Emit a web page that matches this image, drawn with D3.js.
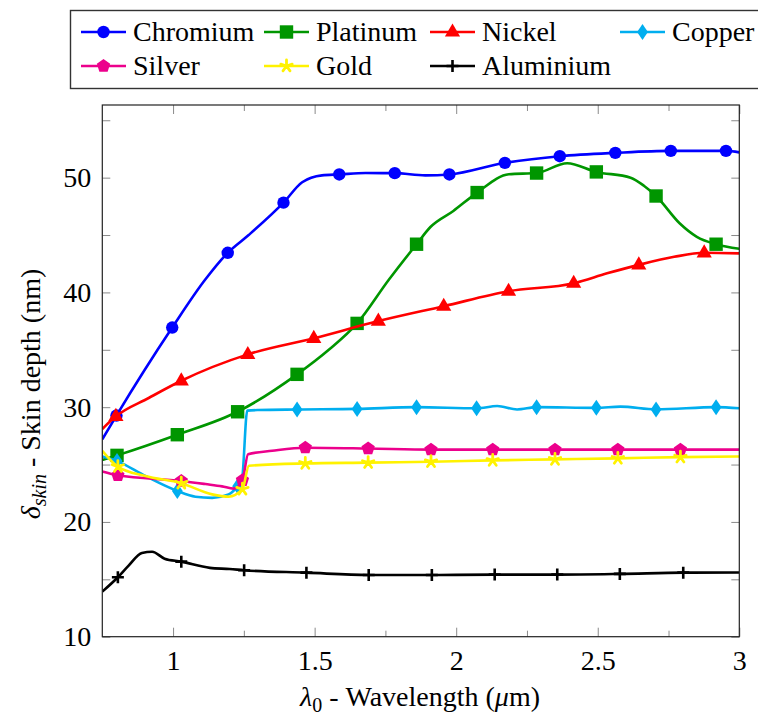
<!DOCTYPE html>
<html><head><meta charset="utf-8">
<script src="https://cdn.jsdelivr.net/npm/d3@7"></script>
</head><body style="margin:0">
<svg id="s" width="758" height="718"></svg>
<script>
// marker points (every n-th sample as drawn) and extra samples that shape the curves
const chromiumMarks = [[0.800, 29.27], [0.997, 36.94], [1.193, 43.45], [1.390, 47.82], [1.587, 50.28], [1.783, 50.39],
  [1.976, 50.28], [2.172, 51.29], [2.366, 51.87], [2.562, 52.16], [2.758, 52.33], [2.953, 52.33]]
const chromiumExtra = [[0.75, 27.2], [1.113, 41.1], [1.267, 45.0], [1.456, 49.6], [1.526, 50.2], [1.68, 50.4], [1.891, 50.2], [3.0, 52.2]]

const platinumMarks = [[0.802, 25.8], [1.015, 27.6], [1.228, 29.6], [1.438, 32.86], [1.650, 37.3], [1.860, 44.2],
  [2.074, 48.7], [2.284, 50.4], [2.495, 50.5], [2.706, 48.4], [2.918, 44.2]]
const platinumExtra = [[0.75, 25.4], [1.55, 35.0], [1.762, 41.1], [1.909, 45.7], [1.99, 47.1], [2.186, 50.3], [2.392, 51.26],
  [2.616, 50.0], [2.663, 49.3], [2.79, 46.0], [2.85, 44.84], [3.0, 43.8]]

const nickelMarks = [[0.798, 29.2], [1.029, 32.3], [1.264, 34.6], [1.497, 36.0], [1.725, 37.5], [1.956, 38.8],
  [2.185, 40.1], [2.415, 40.8], [2.645, 42.4], [2.876, 43.45]]
const nickelExtra = [[0.75, 28.1], [0.914, 30.8], [2.533, 41.66], [2.77, 43.1], [3.0, 43.4]]

const copperMarks = [[0.802, 25.3], [1.015, 22.7], [1.228, 23.1], [1.438, 29.8], [1.650, 29.85], [1.860, 30.0],
  [2.072, 29.9], [2.284, 30.0], [2.495, 29.94], [2.706, 29.8], [2.918, 30.0]]
const copperExtra = [[0.75, 25.7], [0.902, 24.0], [1.079, 22.2], [1.138, 22.1], [1.196, 22.4], [1.243, 23.6], [1.262, 29.7],
  [1.30, 29.75], [2.145, 30.1], [2.215, 29.8], [2.58, 30.05], [3.0, 29.9]]

const silverMarks = [[0.805, 24.06], [1.029, 23.57], [1.245, 23.63], [1.467, 26.47], [1.689, 26.4], [1.911, 26.3],
  [2.129, 26.3], [2.349, 26.3], [2.571, 26.3], [2.792, 26.3]]
const silverExtra = [[0.75, 24.4], [1.114, 23.3], [1.173, 23.1], [1.214, 22.9], [1.265, 25.9], [1.35, 26.2], [3.0, 26.3]]

const goldMarks = [[0.805, 24.82], [1.029, 23.37], [1.245, 22.85], [1.467, 25.1], [1.689, 25.17], [1.911, 25.25],
  [2.129, 25.36], [2.349, 25.45], [2.571, 25.54], [2.792, 25.65]]
const goldExtra = [[0.75, 26.2], [0.902, 24.0], [1.138, 22.4], [1.196, 22.2], [1.268, 24.9], [3.0, 25.7]]

const aluminiumMarks = [[0.805, 15.18], [1.029, 16.54], [1.251, 15.79], [1.471, 15.58], [1.691, 15.38], [1.914, 15.38],
  [2.136, 15.41], [2.357, 15.41], [2.578, 15.47], [2.802, 15.58]]
const aluminiumExtra = [[0.75, 13.93], [0.843, 16.2], [0.89, 17.3], [0.926, 17.4], [0.97, 16.8], [1.13, 16.0], [1.2, 15.9], [3.0, 15.6]]

const xTicks = [1, 1.5, 2, 2.5, 3]
const xMinorTicks = [1.25, 1.75, 2.25, 2.75]
const yTicks = [10, 20, 30, 40, 50]
const yMinorTicks = [15, 25, 35, 45, 55]

const series = [
  {name: 'Chromium', marks: chromiumMarks, extra: chromiumExtra, color: '#0000ff', mark: 'circle'},
  {name: 'Platinum', marks: platinumMarks, extra: platinumExtra, color: '#009600', mark: 'square'},
  {name: 'Nickel', marks: nickelMarks, extra: nickelExtra, color: '#ff0000', mark: 'triangle'},
  {name: 'Copper', marks: copperMarks, extra: copperExtra, color: '#00aeef', mark: 'diamond'},
  {name: 'Silver', marks: silverMarks, extra: silverExtra, color: '#ec008c', mark: 'pentagon'},
  {name: 'Gold', marks: goldMarks, extra: goldExtra, color: '#fff200', mark: 'star'},
  {name: 'Aluminium', marks: aluminiumMarks, extra: aluminiumExtra, color: '#000000', mark: 'plus'},
]

const FONT = 'Liberation Serif'
const margin = {top: 105, right: 18.7, bottom: 81.3, left: 102.3}
const W = 758, H = 718
const width = W - margin.left - margin.right
const height = H - margin.top - margin.bottom
const fontSize = 28

const svg = d3.select('#s')
const g = svg.append('g').attr('transform', `translate(${margin.left},${margin.top})`)

const x = d3.scaleLinear().domain([0.75, 3]).range([0, width])
const y = d3.scaleLinear().domain([10, 56.33]).range([height, 0])

svg.append('defs').append('clipPath').attr('id', 'plotclip')
  .append('rect').attr('width', width).attr('height', height)

// axes: ticks point inward on all four sides, labels drawn as plain texts
function styleAxis(sel) {
  sel.attr('font-family', null).attr('font-size', null)
  sel.select('.domain').remove()
  sel.selectAll('.tick line').attr('stroke', '#8a8a8a').attr('stroke-width', 1)
  sel.selectAll('text').attr('font-family', FONT).attr('font-size', fontSize).attr('fill', '#000')
}

g.append('g').attr('transform', `translate(0,${height})`)
  .call(d3.axisBottom(x).tickValues(xTicks).tickSize(-9).tickPadding(13).tickFormat(d3.format('')))
  .call(styleAxis)
g.append('g').attr('transform', `translate(0,${height})`)
  .call(d3.axisBottom(x).tickValues(xMinorTicks).tickSize(-6).tickFormat(''))
  .call(styleAxis)
g.append('g')
  .call(d3.axisTop(x).tickValues(xTicks).tickSize(-9).tickFormat(''))
  .call(styleAxis)
g.append('g')
  .call(d3.axisTop(x).tickValues(xMinorTicks).tickSize(-6).tickFormat(''))
  .call(styleAxis)

g.append('g')
  .call(d3.axisLeft(y).tickValues(yTicks).tickSize(-8).tickPadding(11).tickFormat(d3.format('')))
  .call(styleAxis)
g.append('g')
  .call(d3.axisLeft(y).tickValues(yMinorTicks).tickSize(-8).tickFormat(''))
  .call(styleAxis)
g.append('g').attr('transform', `translate(${width},0)`)
  .call(d3.axisRight(y).tickValues(yTicks.concat(yMinorTicks)).tickSize(-8).tickFormat(''))
  .call(styleAxis)

// marker drawing
function drawMark(sel, type, color) {
  if (type === 'circle') {
    sel.append('circle').attr('r', 6.2).attr('fill', color)
  } else if (type === 'square') {
    sel.append('rect').attr('x', -6.7).attr('y', -6.7).attr('width', 13.4).attr('height', 13.4).attr('fill', color)
  } else if (type === 'triangle') {
    sel.append('path').attr('d', 'M0,-8.5L7.6,4.6L-7.6,4.6Z').attr('fill', color)
  } else if (type === 'diamond') {
    sel.append('path').attr('d', 'M0,-8L5.4,0L0,8L-5.4,0Z').attr('fill', color)
  } else if (type === 'pentagon') {
    const pts = d3.range(5).map((k) => {
      const a = -Math.PI / 2 + (k * 2 * Math.PI) / 5
      return [7 * Math.cos(a), 7 * Math.sin(a)]
    })
    sel.append('path').attr('d', 'M' + pts.join('L') + 'Z').attr('fill', color)
  } else if (type === 'star') {
    const d = d3.range(5).map((k) => {
      const a = -Math.PI / 2 + (k * 2 * Math.PI) / 5
      return `M0,0L${6 * Math.cos(a)},${6 * Math.sin(a)}`
    }).join('')
    sel.append('path').attr('d', d).attr('stroke', color).attr('stroke-width', 2.8)
      .attr('stroke-linecap', 'round').attr('fill', 'none')
  } else if (type === 'plus') {
    sel.append('path').attr('d', 'M-6,0H6M0,-6V6').attr('stroke', color).attr('stroke-width', 2.6).attr('fill', 'none')
  }
}

const line = d3.line()
  .x((d) => x(d[0]))
  .y((d) => y(d[1]))
  .curve(d3.curveMonotoneX)

const plot = g.append('g').attr('clip-path', 'url(#plotclip)')

series.forEach((s) => {
  const pts = s.marks.concat(s.extra).sort((a, b) => a[0] - b[0])
  plot.append('path')
    .datum(pts)
    .attr('fill', 'none')
    .attr('stroke', s.color)
    .attr('stroke-width', 2.6)
    .attr('stroke-linejoin', 'round')
    .attr('d', line)
  plot.selectAll(null)
    .data(s.marks)
    .enter()
    .append('g')
    .attr('transform', (d) => `translate(${x(d[0])},${y(d[1])})`)
    .each(function () { drawMark(d3.select(this), s.mark, s.color) })
})

// frame
g.append('rect').attr('width', width).attr('height', height)
  .attr('fill', 'none').attr('stroke', '#222').attr('stroke-width', 1.2)

// axis labels
const xl = svg.append('text').attr('x', 420).attr('y', 706).attr('text-anchor', 'middle')
  .attr('font-size', fontSize).attr('font-family', FONT)
xl.append('tspan').attr('font-style', 'italic').text('λ')
xl.append('tspan').attr('font-size', 20).attr('dy', 6).text('0')
xl.append('tspan').attr('dy', -6).text(' - Wavelength (')
xl.append('tspan').attr('font-style', 'italic').text('μ')
xl.append('tspan').text('m)')

const yl = svg.append('text').attr('transform', 'translate(40,394) rotate(-90)')
  .attr('text-anchor', 'middle').attr('font-size', fontSize).attr('font-family', FONT)
yl.append('tspan').attr('font-style', 'italic').text('δ')
yl.append('tspan').attr('font-style', 'italic').attr('font-size', 20).attr('dy', 6).text('skin')
yl.append('tspan').attr('dy', -6).text(' - Skin depth (nm)')

// legend
const legendCols = [81, 264, 430, 620]
const legendRows = [32, 66]
const legend = svg.append('g')
legend.append('rect').attr('x', 70.5).attr('y', 10.5).attr('width', 720).attr('height', 78)
  .attr('fill', '#fff').attr('stroke', '#333').attr('stroke-width', 1.4)

series.forEach((s, i) => {
  const lx = legendCols[i % 4]
  const ly = legendRows[Math.floor(i / 4)]
  const item = legend.append('g').attr('transform', `translate(${lx},${ly})`)
  item.append('line').attr('x1', 0).attr('x2', 45).attr('y1', 0).attr('y2', 0)
    .attr('stroke', s.color).attr('stroke-width', 2.6)
  const m = item.append('g').attr('transform', 'translate(22.5,0)')
  drawMark(m, s.mark, s.color)
  item.append('text').attr('x', 52).attr('y', 0).attr('dy', '0.33em')
    .attr('font-size', fontSize).attr('font-family', FONT).text(s.name)
})
</script>
</body>
</html>
